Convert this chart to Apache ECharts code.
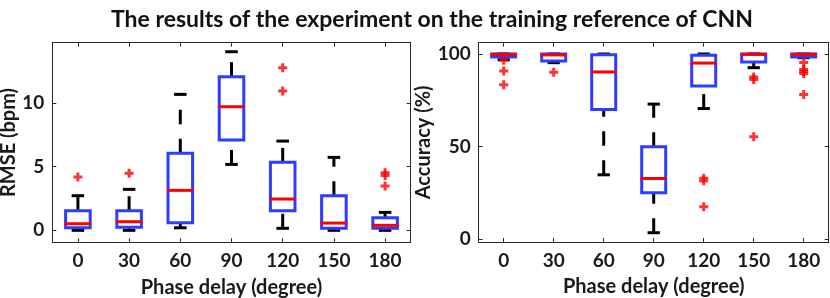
<!DOCTYPE html>
<html>
<head>
<meta charset="utf-8">
<script src="https://cdn.jsdelivr.net/npm/echarts@6/dist/echarts.min.js"></script>
<style>
html,body{margin:0;padding:0;background:#fff;}
#chart{width:830px;height:298px;}
</style>
</head>
<body>
<div id="chart"></div>
<script>
// ---- data ----
const categories = ['0', '30', '60', '90', '120', '150', '180'];

// RMSE (bpm)
const rmseLowerWhisker = [0, 0, 0.2, 5.18, 0.16, 0, 0];
const rmseQ1 = [0.2, 0.24, 0.6, 7.09, 1.54, 0.16, 0.16];
const rmseMedian = [0.52, 0.68, 3.14, 9.71, 2.46, 0.57, 0.39];
const rmseQ3 = [1.54, 1.54, 6.05, 12.07, 5.34, 2.72, 0.99];
const rmseUpperWhisker = [2.72, 3.22, 10.68, 14.03, 7.01, 5.73, 1.41];
const rmseOutliers = [[0, 4.19], [1, 4.48], [4, 12.77], [4, 10.94], [6, 4.53], [6, 4.3], [6, 3.48]];
const rmseTicks = [0, 5, 10];

// Accuracy (%)
const accLowerWhisker = [96.9, 95.3, 34.7, 3.4, 70.5, 92.6, 98.0];
const accQ1 = [98.4, 96.2, 70, 25.0, 82.7, 95.7, 98.4];
const accMedian = [99.8, 99.5, 90.3, 32.7, 95.1, 99.8, 99.8];
const accQ3 = [100, 100, 99.6, 49.8, 99.3, 100, 100];
const accUpperWhisker = [100, 100, 100, 72.9, 100, 100, 100];
const accOutliers = [[0, 96.6], [0, 90.8], [0, 83.4], [1, 90.1], [4, 32.9], [4, 31.5], [4, 17.4],
  [5, 87.6], [5, 86.2], [5, 55.2], [6, 95.4], [6, 91.6], [6, 90.5], [6, 89.4], [6, 78.1]];
const accTicks = [0, 50, 100];

// ---- styling ----
const FONT = 'Lato';
const TXT = '#1a1a1a';
const FRAME = '#262626';
const BLUE = '#2e3cff';
const RED = '#ff0000';
const LW = 3;

function boxData(lw, q1, med, q3, uw) {
  return categories.map((c, i) => [i, lw[i], q1[i], med[i], q3[i], uw[i]]);
}

function renderBox(params, api) {
  const i = api.value(0);
  const band = api.size([1, 0])[0];
  const bw = band * 0.48;
  const cw = band * 0.245;
  const pLW = api.coord([i, api.value(1)]);
  const pQ1 = api.coord([i, api.value(2)]);
  const pMed = api.coord([i, api.value(3)]);
  const pQ3 = api.coord([i, api.value(4)]);
  const pUW = api.coord([i, api.value(5)]);
  const cx = pQ1[0];
  const dash = { stroke: '#000', lineWidth: LW, lineDash: [14.5, 14.5], fill: null };
  const solid = { stroke: '#000', lineWidth: LW, fill: null };
  return {
    type: 'group',
    children: [
      { type: 'line', shape: { x1: cx, y1: pLW[1], x2: cx, y2: pQ1[1] }, style: dash },
      { type: 'line', shape: { x1: cx, y1: pQ3[1], x2: cx, y2: pUW[1] }, style: dash },
      { type: 'line', shape: { x1: cx - cw / 2, y1: pLW[1], x2: cx + cw / 2, y2: pLW[1] }, style: solid },
      { type: 'line', shape: { x1: cx - cw / 2, y1: pUW[1], x2: cx + cw / 2, y2: pUW[1] }, style: solid },
      { type: 'rect', shape: { x: cx - bw / 2, y: pQ3[1], width: bw, height: pQ1[1] - pQ3[1] },
        style: { stroke: BLUE, lineWidth: LW, fill: null } },
      { type: 'line', shape: { x1: cx - bw / 2 - 1, y1: pMed[1], x2: cx + bw / 2 + 1, y2: pMed[1] },
        style: { stroke: RED, lineWidth: LW, fill: null } }
    ]
  };
}

const PLUS = 'path://M3,0H6V3H9V6H6V9H3V6H0V3H3Z';

function xAxes(gridIndex) {
  const base = {
    type: 'category', data: categories, gridIndex: gridIndex, boundaryGap: true,
    axisLine: { show: true, onZero: false, lineStyle: { color: FRAME, width: 1 } },
    axisTick: { show: true, inside: true, length: 4, alignWithLabel: true, lineStyle: { color: FRAME, width: 1 } },
    splitLine: { show: false }
  };
  return [
    Object.assign({}, base, {
      position: 'bottom',
      axisLabel: { show: true, margin: 9, color: TXT, fontFamily: FONT, fontWeight: 'bold', fontSize: 19 },
      name: 'Phase delay (degree)', nameLocation: 'middle', nameGap: 35,
      nameTextStyle: { color: TXT, fontFamily: FONT, fontWeight: 'bold', fontSize: 20 }
    }),
    Object.assign({}, base, { position: 'top', axisLabel: { show: false } })
  ];
}

function yAxes(gridIndex, min, max, ticks, name, nameGap) {
  const base = {
    type: 'value', gridIndex: gridIndex, min: min, max: max,
    axisLine: { show: true, onZero: false, lineStyle: { color: FRAME, width: 1 } },
    axisTick: { show: true, inside: true, length: 4, customValues: ticks, lineStyle: { color: FRAME, width: 1 } },
    splitLine: { show: false }
  };
  return [
    Object.assign({}, base, {
      position: 'left',
      axisLabel: { show: true, customValues: ticks, margin: 8, color: TXT, fontFamily: FONT, fontWeight: 'bold', fontSize: 19 },
      name: name, nameLocation: 'middle', nameGap: nameGap,
      nameTextStyle: { color: TXT, fontFamily: FONT, fontWeight: 'bold', fontSize: 20 }
    }),
    Object.assign({}, base, { position: 'right', axisLabel: { show: false } })
  ];
}

const chart = echarts.init(document.getElementById('chart'), null, { renderer: 'canvas' });
chart.setOption({
  animation: false,
  backgroundColor: '#fff',
  title: {
    text: 'The results of the experiment on the training reference of CNN',
    left: 427, top: 3, textAlign: 'center',
    textStyle: { color: '#111', fontFamily: FONT, fontWeight: 'bold', fontSize: 23 }
  },
  grid: [
    { left: 52.3, top: 42.7, width: 358.4, height: 199.6, outerBoundsMode: 'none' },
    { left: 478.7, top: 42.7, width: 350, height: 199.3, outerBoundsMode: 'none' }
  ],
  xAxis: xAxes(0).concat(xAxes(1)),
  yAxis: yAxes(0, -0.94, 14.74, rmseTicks, 'RMSE (bpm)', 34)
    .concat(yAxes(1, -1.62, 106.1, accTicks, 'Accuracy (%)', 41)),
  series: [
    { type: 'custom', xAxisIndex: 0, yAxisIndex: 0, renderItem: renderBox,
      data: boxData(rmseLowerWhisker, rmseQ1, rmseMedian, rmseQ3, rmseUpperWhisker),
      encode: { x: 0, y: [1, 2, 3, 4, 5] }, clip: false, z: 2 },
    { type: 'scatter', xAxisIndex: 0, yAxisIndex: 0, data: rmseOutliers,
      symbol: PLUS, symbolSize: 9, itemStyle: { color: RED }, z: 3 },
    { type: 'custom', xAxisIndex: 2, yAxisIndex: 2, renderItem: renderBox,
      data: boxData(accLowerWhisker, accQ1, accMedian, accQ3, accUpperWhisker),
      encode: { x: 0, y: [1, 2, 3, 4, 5] }, clip: false, z: 2 },
    { type: 'scatter', xAxisIndex: 2, yAxisIndex: 2, data: accOutliers,
      symbol: PLUS, symbolSize: 9, itemStyle: { color: RED }, z: 3 }
  ]
});
</script>
</body>
</html>
